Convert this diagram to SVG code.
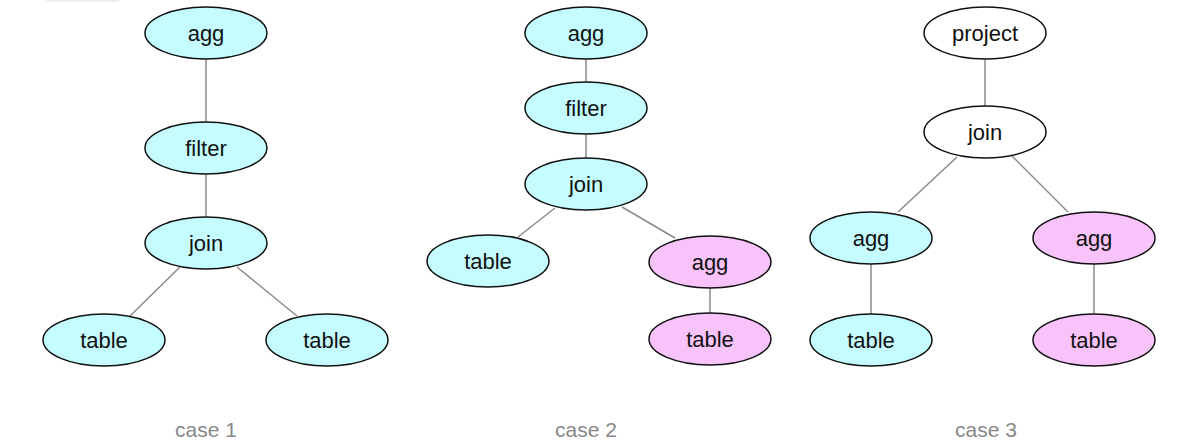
<svg xmlns="http://www.w3.org/2000/svg" width="1200" height="448" viewBox="0 0 1200 448">
<style>
.n ellipse{stroke:#111;stroke-width:1.5}
.cy{fill:#c4fcff}
.pk{fill:#f8c3fa}
.wh{fill:#fff}
.n text{font-family:"Liberation Sans",Arial,sans-serif;font-size:22px;fill:#111;text-anchor:middle;dominant-baseline:central}
#edges line{stroke:#8a8a8a;stroke-width:1.5}
.cap{font-family:"Liberation Sans",Arial,sans-serif;font-size:21px;fill:#888;text-anchor:middle}
</style>
<rect width="1200" height="448" fill="#fff"/>
<rect x="45" y="-10" width="75" height="12" rx="4" fill="#eceef2"/>
<g id="edges">
<line x1="206" y1="59" x2="206" y2="122"/>
<line x1="206" y1="174" x2="206" y2="217"/>
<line x1="180" y1="267" x2="130" y2="316"/>
<line x1="237" y1="267" x2="297" y2="316"/>
<line x1="586" y1="59" x2="586" y2="82"/>
<line x1="586" y1="134" x2="586" y2="158"/>
<line x1="555" y1="208" x2="518" y2="237"/>
<line x1="622" y1="207" x2="675" y2="238"/>
<line x1="710" y1="288" x2="710" y2="313"/>
<line x1="985" y1="59" x2="985" y2="107"/>
<line x1="957" y1="157" x2="898" y2="212"/>
<line x1="1012" y1="156" x2="1068" y2="212"/>
<line x1="871" y1="264" x2="871" y2="314"/>
<line x1="1094" y1="264" x2="1094" y2="314"/>
</g>
<g id="c1-agg" class="n"><ellipse class="cy" cx="206" cy="33" rx="61" ry="26"/><text x="206" y="33">agg</text></g>
<g id="c1-filter" class="n"><ellipse class="cy" cx="206" cy="148" rx="61" ry="26"/><text x="206" y="148">filter</text></g>
<g id="c1-join" class="n"><ellipse class="cy" cx="206" cy="243" rx="61" ry="26"/><text x="206" y="243">join</text></g>
<g id="c1-table1" class="n"><ellipse class="cy" cx="104" cy="340" rx="61" ry="26"/><text x="104" y="340">table</text></g>
<g id="c1-table2" class="n"><ellipse class="cy" cx="327" cy="340" rx="61" ry="26"/><text x="327" y="340">table</text></g>
<g id="c2-agg" class="n"><ellipse class="cy" cx="586" cy="33" rx="61" ry="26"/><text x="586" y="33">agg</text></g>
<g id="c2-filter" class="n"><ellipse class="cy" cx="586" cy="108" rx="61" ry="26"/><text x="586" y="108">filter</text></g>
<g id="c2-join" class="n"><ellipse class="cy" cx="586" cy="184" rx="61" ry="26"/><text x="586" y="184">join</text></g>
<g id="c2-table1" class="n"><ellipse class="cy" cx="488" cy="261" rx="61" ry="26"/><text x="488" y="261">table</text></g>
<g id="c2-agg2" class="n"><ellipse class="pk" cx="710" cy="262" rx="61" ry="26"/><text x="710" y="262">agg</text></g>
<g id="c2-table2" class="n"><ellipse class="pk" cx="710" cy="339" rx="61" ry="26"/><text x="710" y="339">table</text></g>
<g id="c3-project" class="n"><ellipse class="wh" cx="985" cy="33" rx="61" ry="26"/><text x="985" y="33">project</text></g>
<g id="c3-join" class="n"><ellipse class="wh" cx="985" cy="132" rx="61" ry="26"/><text x="985" y="132">join</text></g>
<g id="c3-agg1" class="n"><ellipse class="cy" cx="871" cy="238" rx="61" ry="26"/><text x="871" y="238">agg</text></g>
<g id="c3-agg2" class="n"><ellipse class="pk" cx="1094" cy="238" rx="61" ry="26"/><text x="1094" y="238">agg</text></g>
<g id="c3-table1" class="n"><ellipse class="cy" cx="871" cy="340" rx="61" ry="26"/><text x="871" y="340">table</text></g>
<g id="c3-table2" class="n"><ellipse class="pk" cx="1094" cy="340" rx="61" ry="26"/><text x="1094" y="340">table</text></g>
<text class="cap" x="206" y="437">case 1</text>
<text class="cap" x="586" y="437">case 2</text>
<text class="cap" x="986" y="437">case 3</text>
</svg>
